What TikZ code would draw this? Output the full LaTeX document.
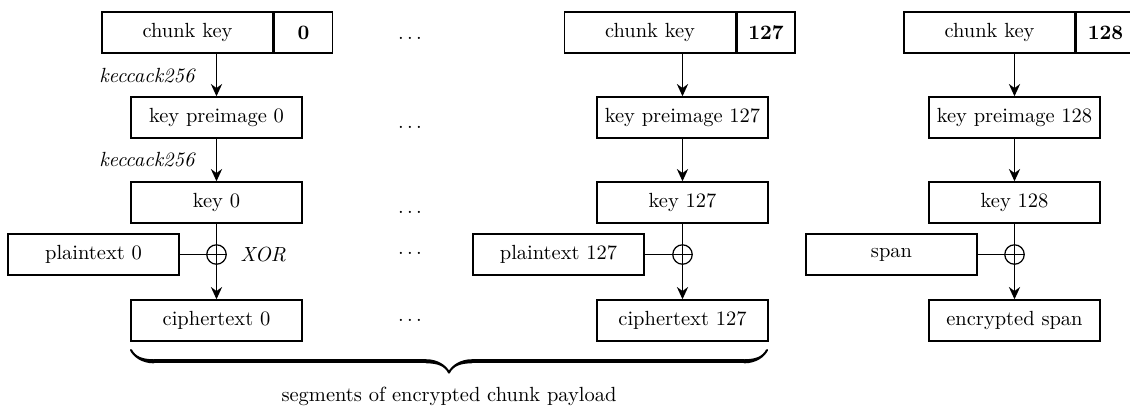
\documentclass[tikz,border=0pt]{standalone}
\usetikzlibrary{arrows.meta,decorations.pathreplacing,calligraphy}
\begin{document}
\begin{tikzpicture}[x=0.488pt,y=-0.488pt,
  box/.style={draw,line width=0.75pt,minimum width=83.4pt,minimum height=20pt,inner sep=0pt,font=\normalsize},
  numbox/.style={draw,line width=0.75pt,minimum width=28.3pt,minimum height=20pt,inner sep=0pt,font=\bfseries},
  arr/.style={line width=0.6pt,-{Stealth[length=6pt,width=5.5pt,inset=2pt]}},
  ln/.style={line width=0.6pt},
  xorc/.style={draw,circle,line width=0.6pt,minimum size=9.5pt,inner sep=0pt},
  lbl/.style={font=\itshape,inner sep=0pt},
  dots/.style={inner sep=0pt}]
\useasboundingbox (0,0) rectangle (1130,410);
% column 0
\node[box] (ck1) at (187.5,32.5) {chunk key};
\node[numbox,anchor=west] (n1) at (ck1.east) {0};
\node[box] (pre1) at (216.5,117.5) {key preimage 0};
\node[box] (key1) at (216.5,202.5) {key 0};
\node[box] (pt1) at (93.5,254.5) {plaintext 0};
\node[xorc] (x1) at (216.5,254.5) {};
\node[box] (ct1) at (216.5,320.5) {ciphertext 0};
\draw[arr] (pre1.north |- ck1.south) -- (pre1.north);
\draw[arr] (pre1) -- (key1);
\draw[ln] (key1) -- (x1.south);
\draw[ln] (pt1) -- (x1.east);
\draw[arr] (x1.south) -- (ct1);
\node[lbl,anchor=east] (h1) at (195,76) {keccack256};
\node[lbl,anchor=east] (h2) at (195,160) {keccack256};
\node[lbl,anchor=west] (xl) at (240,254.5) {XOR};
% dots
\node[dots] (d1) at (410,38) {$\ldots$};
\node[dots] (d2) at (410,127) {$\ldots$};
\node[dots] (d3) at (410,212) {$\ldots$};
\node[dots] (d4) at (410,253.5) {$\ldots$};
\node[dots] (d5) at (410,320) {$\ldots$};
% column 127
\node[box] (ck2) at (650,32.5) {chunk key};
\node[numbox,anchor=west] (n2) at (ck2.east) {127};
\node[box] (pre2) at (682.5,117.5) {key preimage 127};
\node[box] (key2) at (682.5,202.5) {key 127};
\node[box] (pt2) at (558.5,254.5) {plaintext 127};
\node[xorc] (x2) at (682.5,254.5) {};
\node[box] (ct2) at (682.5,320.5) {ciphertext 127};
\draw[arr] (pre2.north |- ck2.south) -- (pre2.north);
\draw[arr] (pre2) -- (key2);
\draw[ln] (key2) -- (x2.south);
\draw[ln] (pt2) -- (x2.east);
\draw[arr] (x2.south) -- (ct2);
% column 128
\node[box] (ck3) at (989.5,32.5) {chunk key};
\node[numbox,anchor=west] (n3) at (ck3.east) {128};
\node[box] (pre3) at (1014.5,117.5) {key preimage 128};
\node[box] (key3) at (1014.5,202.5) {key 128};
\node[box] (pt3) at (891.5,254.5) {span};
\node[xorc] (x3) at (1014.5,254.5) {};
\node[box] (ct3) at (1014.5,320.5) {encrypted span};
\draw[arr] (pre3.north |- ck3.south) -- (pre3.north);
\draw[arr] (pre3) -- (key3);
\draw[ln] (key3) -- (x3.south);
\draw[ln] (pt3) -- (x3.east);
\draw[arr] (x3.south) -- (ct3);
% brace
\coordinate (bl) at (131,350);
\coordinate (br) at (767,350);
\draw[decorate,decoration={calligraphic brace,mirror,amplitude=11pt},line width=2pt] (bl) -- (br);
\node (seg) at (449,396) {segments of encrypted chunk payload};
\end{tikzpicture}
\end{document}
